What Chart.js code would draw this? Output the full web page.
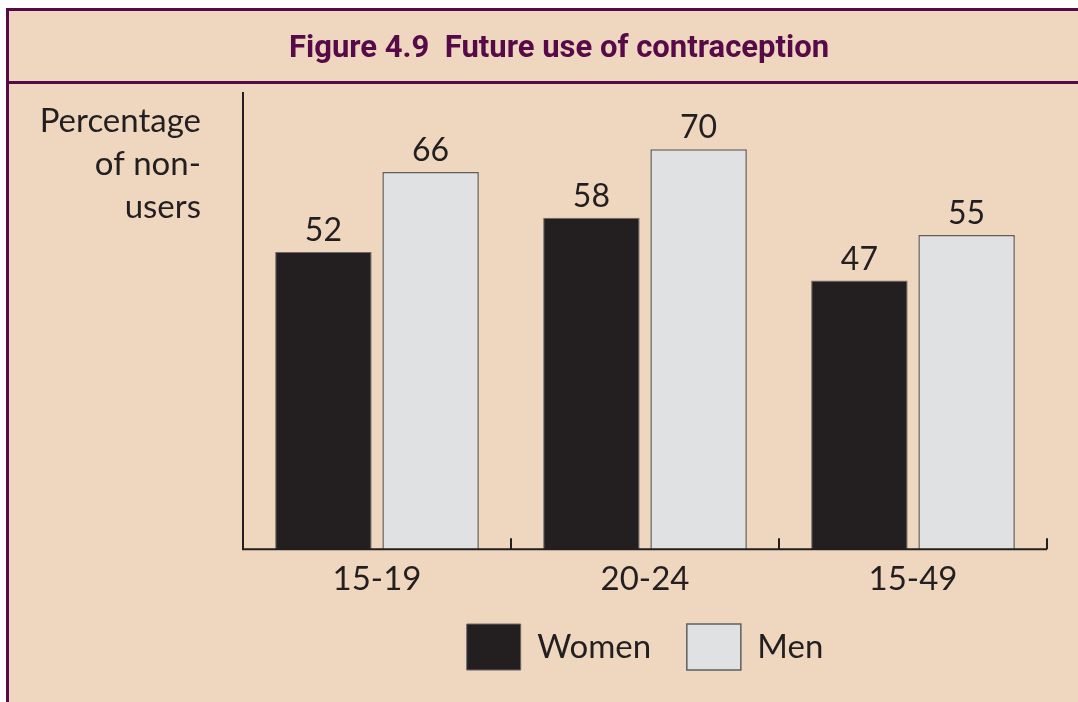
<!DOCTYPE html>
<html>
<head>
<meta charset="utf-8">
<script src="https://cdn.jsdelivr.net/npm/chart.js@4"></script>
<style>
  html, body { margin: 0; padding: 0; background: #ffffff; }
  #wrap { width: 1078px; height: 702px; position: relative; }
</style>
</head>
<body>
<div id="wrap"><canvas id="chart" width="1078" height="702"></canvas></div>
<script>
// --- dados ---
const categories = ['15-19', '20-24', '15-49'];
const women = [52, 58, 47];
const men = [66, 70, 55];
const yMax = 80;

const titleText = 'Figure 4.9  Future use of contraception';
const yTitleLines = ['Percentage', 'of non-', 'users'];

const BG = '#efd7bf';
const PURPLE = '#560a48';
const INK = '#231f20';
const FONT = 'Lato, "Open Sans", sans-serif';

// fundo, moldura, título e eixos
const framePlugin = {
    id: 'frame',
    beforeDraw(chart) {
        const ctx = chart.ctx;
        ctx.save();
        ctx.fillStyle = '#ffffff';
        ctx.fillRect(0, 0, chart.width, chart.height);
        ctx.fillStyle = BG;
        ctx.fillRect(6, 8, chart.width - 6, chart.height - 8);
        ctx.fillStyle = PURPLE;
        ctx.fillRect(6, 8, chart.width - 6, 3);
        ctx.fillRect(6, 8, 3, chart.height - 8);
        ctx.fillRect(6, 81, chart.width - 6, 3);

        ctx.fillStyle = PURPLE;
        ctx.font = 'bold 31px "Liberation Sans Narrow", "Roboto", sans-serif';
        ctx.textAlign = 'center';
        ctx.textBaseline = 'alphabetic';
        ctx.fillText(titleText, 559, 57);

        ctx.fillStyle = INK;
        ctx.font = '33px ' + FONT;
        ctx.textAlign = 'right';
        yTitleLines.forEach((t, i) => ctx.fillText(t, 201, 132 + i * 43));
        ctx.restore();
    },
    afterDatasetsDraw(chart) {
        const ctx = chart.ctx;
        const a = chart.chartArea;
        const xs = chart.scales.x;
        ctx.save();
        ctx.strokeStyle = INK;
        ctx.lineWidth = 2;
        ctx.beginPath();
        ctx.moveTo(a.left, a.top);
        ctx.lineTo(a.left, a.bottom);
        ctx.lineTo(a.right, a.bottom);
        ctx.stroke();
        // marcas entre categorias, para cima
        for (let i = 1; i <= categories.length; i++) {
            const x = xs.getPixelForValue(i - 0.5);
            ctx.beginPath();
            ctx.moveTo(x, a.bottom);
            ctx.lineTo(x, a.bottom - 11);
            ctx.stroke();
        }
        // rótulos de valor
        ctx.fillStyle = INK;
        ctx.font = '32px ' + FONT;
        ctx.textAlign = 'center';
        ctx.textBaseline = 'alphabetic';
        chart.data.datasets.forEach((ds, di) => {
            chart.getDatasetMeta(di).data.forEach((bar, i) => {
                ctx.fillText(String(ds.data[i]), bar.x, bar.y - 11);
            });
        });
        ctx.restore();
    }
};

new Chart(document.getElementById('chart'), {
    type: 'bar',
    data: {
        labels: categories,
        datasets: [
            { label: 'Women', data: women, backgroundColor: INK, borderColor: '#6b6767', borderWidth: 1 },
            { label: 'Men', data: men, backgroundColor: '#e0e1e3', borderColor: '#5f5f61', borderWidth: 1.5 }
        ]
    },
    options: {
        responsive: false,
        animation: false,
        devicePixelRatio: 1,
        categoryPercentage: 0.8,
        barPercentage: 0.9,
        layout: { padding: { left: 243, right: 31, top: 92, bottom: 22 } },
        scales: {
            x: {
                grid: { display: false, drawTicks: false },
                border: { display: false },
                ticks: { color: INK, font: { family: FONT, size: 33, lineHeight: 0.6 }, padding: 20 }
            },
            y: { display: false, min: 0, max: yMax }
        },
        plugins: {
            legend: {
                position: 'bottom',
                labels: {
                    color: INK,
                    font: { family: FONT, size: 33 },
                    boxWidth: 54,
                    boxHeight: 46,
                    padding: 15,
                    generateLabels(chart) {
                        const items = Chart.defaults.plugins.legend.labels.generateLabels(chart);
                        // um pouco mais de espaço depois de "Women"
                        items[0].text = items[0].text + '\u2002\u2009';
                        return items;
                    }
                }
            },
            tooltip: { enabled: false },
            title: { display: false }
        }
    },
    plugins: [framePlugin]
});
</script>
</body>
</html>
